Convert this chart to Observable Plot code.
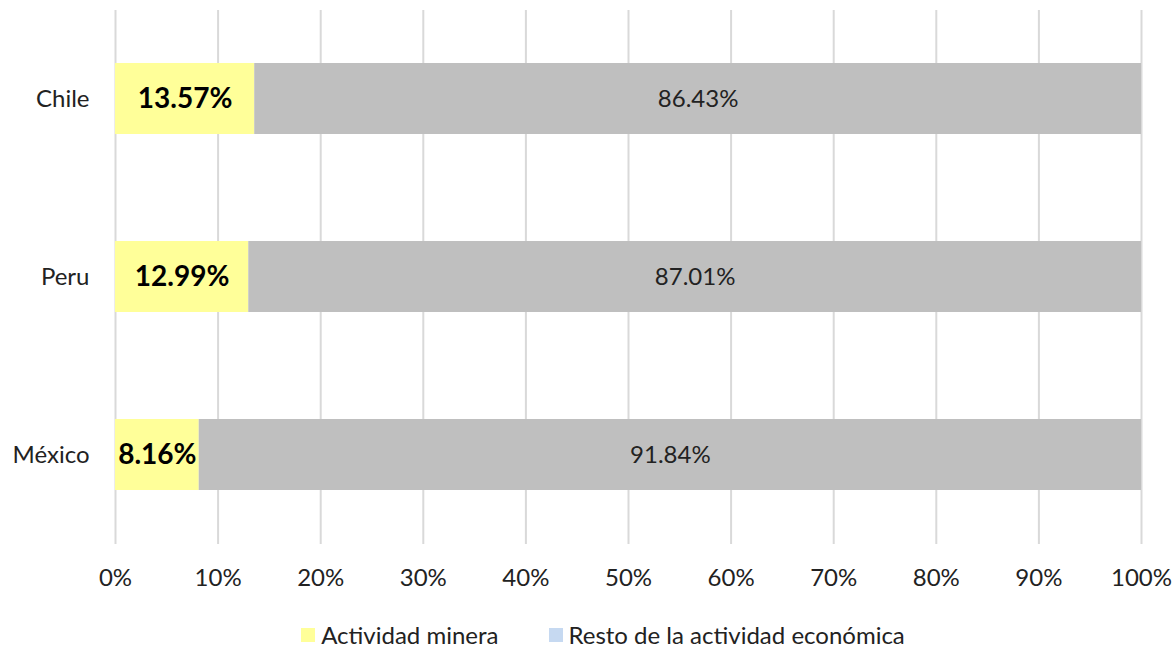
<!DOCTYPE html>
<html>
<head>
<meta charset="utf-8">
<script src="https://cdn.jsdelivr.net/npm/d3@7"></script>
<script src="https://cdn.jsdelivr.net/npm/@observablehq/plot@0.6"></script>
<style>
  body { margin: 0; background: #fff; font-family: Lato, "Open Sans", sans-serif; }
  #chart svg { display: block; }
  .legend { display: flex; justify-content: center; align-items: center; gap: 50px; font-size: 24px; color: #222; margin-left: 30px; margin-top: 20px; }
  .legend span.item { display: flex; align-items: center; }
  .legend .sw { width: 14px; height: 14px; display: inline-block; margin-right: 6px; }
</style>
</head>
<body>
<div id="chart"></div>
<div class="legend">
  <span class="item"><span class="sw" style="background:#FFFF99"></span>Actividad minera</span>
  <span class="item"><span class="sw" style="background:#C6D9F1"></span>Resto de la actividad económica</span>
</div>
<script>
const countries = ["Chile", "Peru", "México"];
const minera = [13.57, 12.99, 8.16];
const resto = [86.43, 87.01, 91.84];
const seriesNames = ["Actividad minera", "Resto de la actividad económica"];
const xTicks = [0, 10, 20, 30, 40, 50, 60, 70, 80, 90, 100];

const data = [];
countries.forEach((c, i) => {
  data.push({country: c, series: seriesNames[0], value: minera[i]});
  data.push({country: c, series: seriesNames[1], value: resto[i]});
});

const chart = Plot.plot({
  width: 1176,
  height: 600,
  marginLeft: 115,
  marginRight: 35,
  marginTop: 10,
  marginBottom: 56,
  style: {fontFamily: "Lato, 'Open Sans', sans-serif", fontSize: "24px", color: "#222"},
  x: {domain: [0, 100], ticks: xTicks, tickFormat: d => d + "%", label: null, grid: false},
  y: {domain: countries, paddingInner: 0.6, paddingOuter: 0.3, label: null},
  color: {domain: seriesNames, range: ["#FFFF99", "#BFBFBF"]},
  marks: [
    Plot.ruleX(xTicks, {stroke: "#D9D9D9", strokeWidth: 2}),
    Plot.barX(data, Plot.stackX({x: "value", y: "country", fill: "series"})),
    Plot.text(data, Plot.stackX({
      x: "value", y: "country", z: "series",
      text: d => d.series === seriesNames[0] ? d.value.toFixed(2) + "%" : "",
      fontWeight: "bold", fontSize: 28, fill: "#000"
    })),
    Plot.text(data, Plot.stackX({
      x: "value", y: "country", z: "series",
      text: d => d.series === seriesNames[1] ? d.value.toFixed(2) + "%" : "",
      fontSize: 24, fill: "#222"
    })),
    Plot.axisX({ticks: xTicks, tickFormat: d => d + "%", tickSize: 0, tickPadding: 24, label: null, fontSize: 24}),
    Plot.axisY({tickSize: 0, tickPadding: 26, label: null, fontSize: 24})
  ]
});
document.getElementById("chart").appendChild(chart);
</script>
</body>
</html>
